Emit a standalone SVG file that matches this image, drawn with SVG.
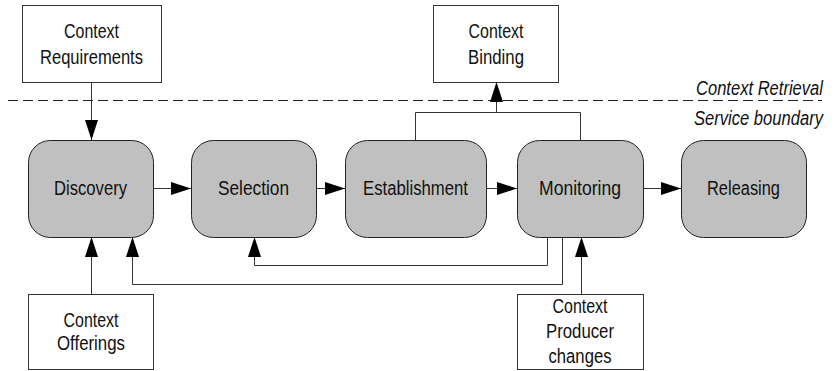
<svg xmlns="http://www.w3.org/2000/svg" width="836" height="371" viewBox="0 0 836 371">
<defs>
<marker id="ah" markerWidth="20" markerHeight="14" refX="20" refY="7" orient="auto" markerUnits="userSpaceOnUse">
<path d="M0,0.5 L20,7 L0,13.5 Z" fill="#000"/>
</marker>
<style>
.box{fill:#fff;stroke:#333;stroke-width:1}
.st{fill:#c0c0c0;stroke:#222;stroke-width:1}
.t{font-family:"Liberation Sans",Arial,sans-serif;font-size:20px;fill:#111;text-anchor:middle}
.ti{font-family:"Liberation Sans",Arial,sans-serif;font-size:20px;fill:#111;text-anchor:start;font-style:italic}
.c{fill:none;stroke:#333;stroke-width:1}
.ca{fill:none;stroke:#333;stroke-width:1;marker-end:url(#ah)}
</style>
</defs>
<rect width="836" height="371" fill="#fff"/>
<line x1="8" y1="100.5" x2="822" y2="100.5" stroke="#222" stroke-width="1" stroke-dasharray="10,5"/>
<text class="ti" x="696" y="95" textLength="127" lengthAdjust="spacingAndGlyphs">Context Retrieval</text>
<text class="ti" x="694" y="125" textLength="129" lengthAdjust="spacingAndGlyphs">Service boundary</text>
<g id="connectors">
<line class="ca" x1="91.5" y1="82" x2="91.5" y2="140"/>
<line class="ca" x1="153" y1="188.5" x2="191" y2="188.5"/>
<line class="ca" x1="316" y1="188.5" x2="345" y2="188.5"/>
<line class="ca" x1="486" y1="188.5" x2="517" y2="188.5"/>
<line class="ca" x1="643" y1="188.5" x2="681" y2="188.5"/>
<polyline class="c" points="415.5,140 415.5,112.5 580.5,112.5 580.5,140"/>
<line class="ca" x1="496.5" y1="112.5" x2="496.5" y2="82"/>
<line class="ca" x1="91.5" y1="294" x2="91.5" y2="237"/>
<polyline class="ca" points="562.5,237 562.5,284.5 132.5,284.5 132.5,237"/>
<polyline class="ca" points="547.5,237 547.5,265.5 254.5,265.5 254.5,237"/>
<line class="ca" x1="581.5" y1="294" x2="581.5" y2="237"/>
</g>
<g id="ctx-req"><rect class="box" x="22.5" y="5.5" width="139" height="77"/><text class="t" x="91.5" y="38" textLength="55" lengthAdjust="spacingAndGlyphs">Context</text><text class="t" x="91.5" y="64" textLength="103" lengthAdjust="spacingAndGlyphs">Requirements</text></g>
<g id="ctx-bind"><rect class="box" x="433.5" y="5.5" width="125" height="77"/><text class="t" x="496" y="38" textLength="55" lengthAdjust="spacingAndGlyphs">Context</text><text class="t" x="496" y="64" textLength="56" lengthAdjust="spacingAndGlyphs">Binding</text></g>
<g id="discovery"><rect class="st" x="28.5" y="140.5" width="125" height="97" rx="22"/><text class="t" x="90.5" y="195" textLength="73" lengthAdjust="spacingAndGlyphs">Discovery</text></g>
<g id="selection"><rect class="st" x="191.5" y="140.5" width="125" height="97" rx="22"/><text class="t" x="253.5" y="195" textLength="71" lengthAdjust="spacingAndGlyphs">Selection</text></g>
<g id="establishment"><rect class="st" x="345.5" y="140.5" width="141" height="97" rx="22"/><text class="t" x="415.5" y="195" textLength="105" lengthAdjust="spacingAndGlyphs">Establishment</text></g>
<g id="monitoring"><rect class="st" x="517.5" y="140.5" width="126" height="97" rx="22"/><text class="t" x="580" y="195" textLength="82" lengthAdjust="spacingAndGlyphs">Monitoring</text></g>
<g id="releasing"><rect class="st" x="681.5" y="140.5" width="125" height="97" rx="22"/><text class="t" x="743.5" y="195" textLength="73" lengthAdjust="spacingAndGlyphs">Releasing</text></g>
<g id="ctx-off"><rect class="box" x="28.5" y="294.5" width="125" height="75"/><text class="t" x="91" y="327" textLength="55" lengthAdjust="spacingAndGlyphs">Context</text><text class="t" x="91" y="350" textLength="68" lengthAdjust="spacingAndGlyphs">Offerings</text></g>
<g id="ctx-prod"><rect class="box" x="517.5" y="294.5" width="126" height="75"/><text class="t" x="580" y="313" textLength="55" lengthAdjust="spacingAndGlyphs">Context</text><text class="t" x="580" y="338" textLength="68" lengthAdjust="spacingAndGlyphs">Producer</text><text class="t" x="580" y="363" textLength="63" lengthAdjust="spacingAndGlyphs">changes</text></g>
</svg>
